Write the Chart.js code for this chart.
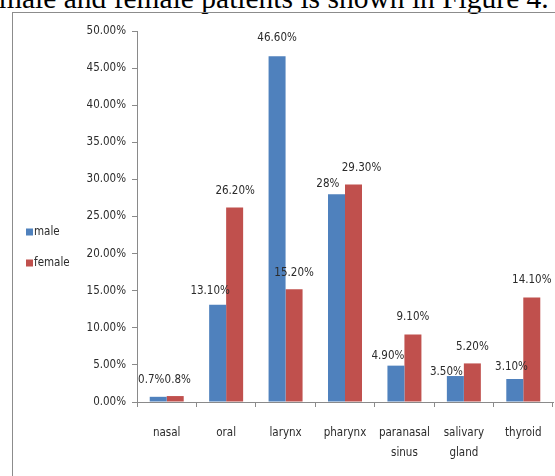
<!DOCTYPE html>
<html>
<head>
<meta charset="utf-8">
<script src="https://cdn.jsdelivr.net/npm/chart.js@4"></script>
<style>
  html, body { margin:0; padding:0; background:#fff; }
  #wrap { position:relative; width:555px; height:476px; overflow:hidden; background:#fff; }
  #header { position:absolute; left:-1px; top:-16px; font-family:"Liberation Serif","Times New Roman",serif; font-size:29.5px; line-height:29.5px; color:#000; white-space:nowrap; }
  #frame { position:absolute; left:12px; top:12px; width:560px; height:480px; border-left:1px solid #8c8c8c; border-top:1px solid #8c8c8c; }
  #c { position:absolute; left:0; top:0; }
</style>
</head>
<body>
<div id="wrap">
  <div id="header">male and female patients is shown in Figure 4.</div>
  <div id="frame"></div>
  <canvas id="c" width="555" height="476"></canvas>
</div>
<script>
const categories = ["nasal", "oral", "larynx", "pharynx", ["paranasal", "sinus"], ["salivary", "gland"], "thyroid"];
const seriesNames = ["male", "female"];
const maleValues = [0.7, 13.1, 46.6, 28.0, 4.9, 3.5, 3.1];
const femaleValues = [0.8, 26.2, 15.2, 29.3, 9.1, 5.2, 14.1];
const maleLabels = ["0.7%", "13.10%", "46.60%", "28%", "4.90%", "3.50%", "3.10%"];
const femaleLabels = ["0.8%", "26.20%", "15.20%", "29.30%", "9.10%", "5.20%", "14.10%"];
const yTicks = [0, 5, 10, 15, 20, 25, 30, 35, 40, 45, 50];

// label nudges (layout only)
const maleNudge = [[-7, 17], [-7.5, 14], [0, 18], [-8.7, 10], [-8, 10], [-9, 4], [-3.3, 12]];
const femaleNudge = [[2.5, 16], [0.5, 16.7], [0, 16.7], [8, 16.7], [0, 17], [0, 16.7], [0, 17.7]];

const FONT = '"DejaVu Sans Condensed", "Liberation Sans Narrow", "Arial Narrow", sans-serif';
const FS = 11.5;
const TXT = '#2b2b2b';
const AXIS = '#8a8a8a';
const COLORS = ['#4F81BD', '#C0504D'];

const labelPlugin = {
  id: 'barLabels',
  afterDatasetsDraw(chart) {
    const ctx = chart.ctx;
    ctx.save();
    ctx.font = FS + 'px ' + FONT;
    ctx.fillStyle = TXT;
    ctx.textAlign = 'center';
    ctx.textBaseline = 'middle';
    const labs = [maleLabels, femaleLabels];
    const nud = [maleNudge, femaleNudge];
    chart.data.datasets.forEach((ds, di) => {
      const meta = chart.getDatasetMeta(di);
      meta.data.forEach((bar, i) => {
        ctx.fillText(labs[di][i], bar.x + nud[di][i][0], bar.y - nud[di][i][1]);
      });
    });
    ctx.restore();
  }
};

const legendPlugin = {
  id: 'sideLegend',
  afterDraw(chart) {
    const ctx = chart.ctx;
    ctx.save();
    ctx.font = FS + 'px ' + FONT;
    ctx.textBaseline = 'middle';
    ctx.textAlign = 'left';
    const ys = [232, 263];
    chart.data.datasets.forEach((ds, i) => {
      ctx.fillStyle = ds.backgroundColor;
      ctx.fillRect(26, ys[i] - 3.5, 7, 7);
      ctx.fillStyle = TXT;
      ctx.fillText(ds.label, 34, ys[i] + 0.5);
    });
    ctx.restore();
  }
};

new Chart(document.getElementById('c'), {
  type: 'bar',
  data: {
    labels: categories,
    datasets: [
      { label: seriesNames[0], data: maleValues, backgroundColor: COLORS[0], borderWidth: 0 },
      { label: seriesNames[1], data: femaleValues, backgroundColor: COLORS[1], borderWidth: 0 }
    ]
  },
  options: {
    responsive: false,
    animation: false,
    devicePixelRatio: 1,
    layout: { padding: { top: 31, right: 2, bottom: 0, left: 0 } },
    plugins: { legend: { display: false }, tooltip: { enabled: false } },
    datasets: { bar: { categoryPercentage: 0.572, barPercentage: 1.0 } },
    scales: {
      x: {
        afterFit(s) { s.height = 74; s.paddingLeft = 0; s.paddingRight = 0; },
        grid: { display: true, drawOnChartArea: false, drawTicks: true, tickLength: 5, color: AXIS, offset: true },
        border: { display: true, color: AXIS },
        ticks: { color: TXT, padding: 16, maxRotation: 0, autoSkip: false, font: { family: FONT, size: FS, lineHeight: 20 / FS } }
      },
      y: {
        min: 0, max: 50,
        afterFit(s) { s.width = 137; },
        afterBuildTicks(s) { s.ticks = yTicks.map(v => ({ value: v })); },
        grid: { display: true, drawOnChartArea: false, drawTicks: true, tickLength: 5, color: AXIS },
        border: { display: true, color: AXIS },
        ticks: { color: TXT, padding: 6, font: { family: FONT, size: FS }, callback: v => v.toFixed(2) + '%' }
      }
    }
  },
  plugins: [labelPlugin, legendPlugin]
});
</script>
</body>
</html>
